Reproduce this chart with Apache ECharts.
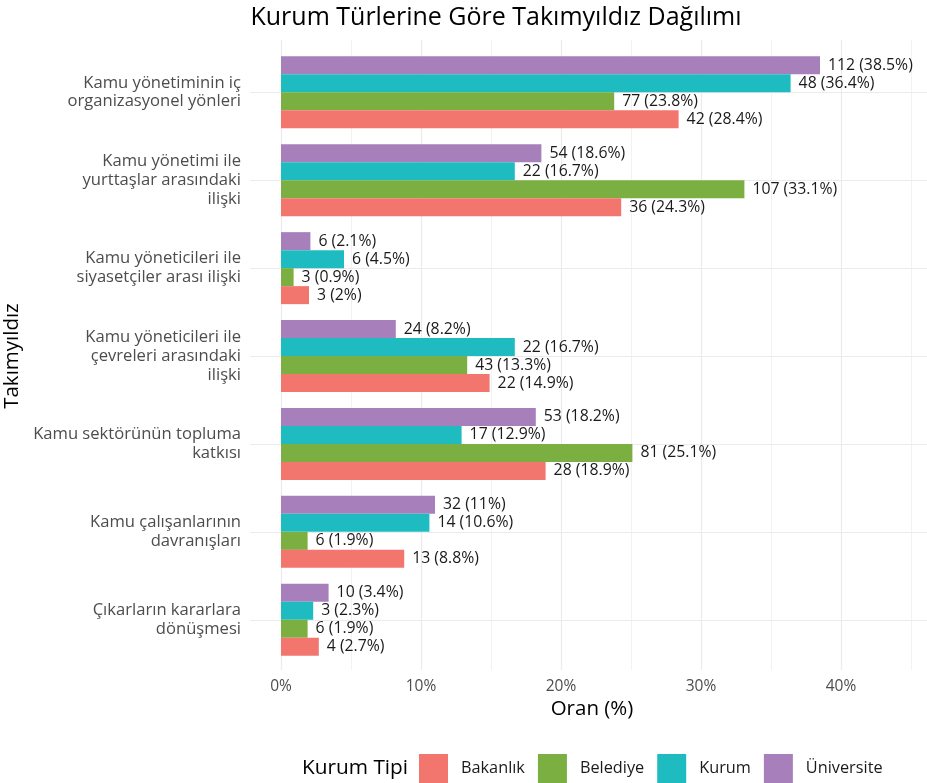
<!DOCTYPE html>
<html>
<head>
    <meta charset="UTF-8">
    <title>Kurum Türlerine Göre Takımyıldız Dağılımı</title>
    <script type="text/javascript" src="https://cdn.jsdelivr.net/npm/echarts@6/dist/echarts.min.js"></script>
</head>
<script>
    // kategoriler yukarıdan aşağıya
    var categories = [
        "Kamu yönetiminin iç\norganizasyonel yönleri",
        "Kamu yönetimi ile\nyurttaşlar arasındaki\nilişki",
        "Kamu yöneticileri ile\nsiyasetçiler arası ilişki",
        "Kamu yöneticileri ile\nçevreleri arasındaki\nilişki",
        "Kamu sektörünün topluma\nkatkısı",
        "Kamu çalışanlarının\ndavranışları",
        "Çıkarların kararlara\ndönüşmesi"
    ];
    var types = ["Bakanlık", "Belediye", "Kurum", "Üniversite"];
    var colors = ["#F2756E", "#7BAF41", "#1EBCC1", "#A77FBA"];

    // oran (%)
    var pctBakanlik = [28.4, 24.3, 2, 14.9, 18.9, 8.8, 2.7];
    var pctBelediye = [23.8, 33.1, 0.9, 13.3, 25.1, 1.9, 1.9];
    var pctKurum = [36.4, 16.7, 4.5, 16.7, 12.9, 10.6, 2.3];
    var pctUniversite = [38.5, 18.6, 2.1, 8.2, 18.2, 11, 3.4];

    // adet
    var nBakanlik = [42, 36, 3, 22, 28, 13, 4];
    var nBelediye = [77, 107, 3, 43, 81, 6, 6];
    var nKurum = [48, 22, 6, 22, 17, 14, 3];
    var nUniversite = [112, 54, 6, 24, 53, 32, 10];

    var xTicks = [0, 10, 20, 30, 40];

    var pcts = [pctBakanlik, pctBelediye, pctKurum, pctUniversite];
    var counts = [nBakanlik, nBelediye, nKurum, nUniversite];
    var font = "Open Sans";

    function barSeries(k) {
        return {
            name: types[k],
            type: "bar",
            xAxisIndex: 1,
            yAxisIndex: 1,
            barWidth: 18,
            barGap: "0%",
            z: 3,
            itemStyle: {color: colors[k]},
            label: {
                show: true,
                position: "right",
                distance: 8,
                fontFamily: font,
                fontSize: 15.8,
                color: "#1a1a1a",
                formatter: function (p) {
                    return counts[k][p.dataIndex] + " (" + pcts[k][p.dataIndex] + "%)";
                }
            },
            data: pcts[k]
        };
    }

    window.onload = function () {
        var chart = echarts.init(document.getElementById("main"));
        var series = [];
        // üstten alta: Üniversite, Kurum, Belediye, Bakanlık
        for (var k = types.length - 1; k >= 0; k--) {
            series.push(barSeries(k));
        }
        // yatay ızgara çizgileri kategori ortalarında
        series.push({
            type: "line",
            xAxisIndex: 1,
            yAxisIndex: 1,
            data: [],
            z: 0,
            markLine: {
                silent: true,
                z: 0,
                symbol: "none",
                label: {show: false},
                lineStyle: {color: "#ebebeb", width: 1.2, type: "solid"},
                data: categories.map(function (c) { return {yAxis: c}; })
            }
        });

        var option = {
            backgroundColor: "#ffffff",
            animation: false,
            textStyle: {fontFamily: font},
            title: [
                {text: "Kurum Türlerine Göre Takımyıldız Dağılımı", left: 491, top: 0, textAlign: "center",
                    textStyle: {fontFamily: font, fontSize: 25, fontWeight: "normal", color: "#000"}},
                {text: "Oran (%)", left: 587, top: 694, textAlign: "center",
                    textStyle: {fontFamily: font, fontSize: 20.5, fontWeight: "normal", color: "#000"}},
                {text: "Kurum Tipi", left: 297, top: 753,
                    textStyle: {fontFamily: font, fontSize: 20.8, fontWeight: "normal", color: "#000"}}
            ],
            legend: {
                data: types,
                left: 414,
                top: 749,
                icon: "rect",
                itemWidth: 29,
                itemHeight: 29,
                itemGap: 13,
                textStyle: {fontFamily: font, fontSize: 16.3, color: "#1a1a1a", padding: [0, 0, 0, 8]}
            },
            grid: [
                {left: 281, width: 700, top: 40, bottom: 113, outerBoundsMode: "none"},
                {left: 250, width: 731, top: 48.4, bottom: 119.3, outerBoundsMode: "none"}
            ],
            xAxis: [
                {
                    type: "value", gridIndex: 0, min: 0, max: 50, interval: 10,
                    axisLine: {show: false}, axisTick: {show: false},
                    axisLabel: {
                        margin: 9, color: "#4d4d4d", fontFamily: font, fontSize: 15.5,
                        showMaxLabel: false,
                        formatter: function (v) { return xTicks.indexOf(v) >= 0 ? v + "%" : ""; }
                    },
                    splitLine: {lineStyle: {color: "#ebebeb", width: 1.2}},
                    minorTick: {show: false, splitNumber: 2},
                    minorSplitLine: {show: true, lineStyle: {color: "#f2f2f2", width: 1}}
                },
                {
                    type: "value", gridIndex: 1, min: -2.214, max: 50, show: false,
                    splitLine: {show: false}
                }
            ],
            yAxis: [
                {type: "value", gridIndex: 0, show: false, splitLine: {show: false}},
                {
                    type: "category", gridIndex: 1, inverse: true, data: categories,
                    axisLine: {show: false}, axisTick: {show: false}, splitLine: {show: false},
                    axisLabel: {margin: 9, color: "#4d4d4d", fontFamily: font, fontSize: 16.6, lineHeight: 18.8, align: "right"},
                    name: "Takımyıldız", nameLocation: "middle", nameRotate: 90, nameGap: 224,
                    nameTextStyle: {fontFamily: font, fontSize: 20.5, color: "#000"}
                }
            ],
            series: series
        };
        chart.setOption(option);
    };
</script>
<body style="margin: 0;background: #ffffff;">
<div id="main" style="width: 927px;height: 783px;"></div>
</body>
</html>
